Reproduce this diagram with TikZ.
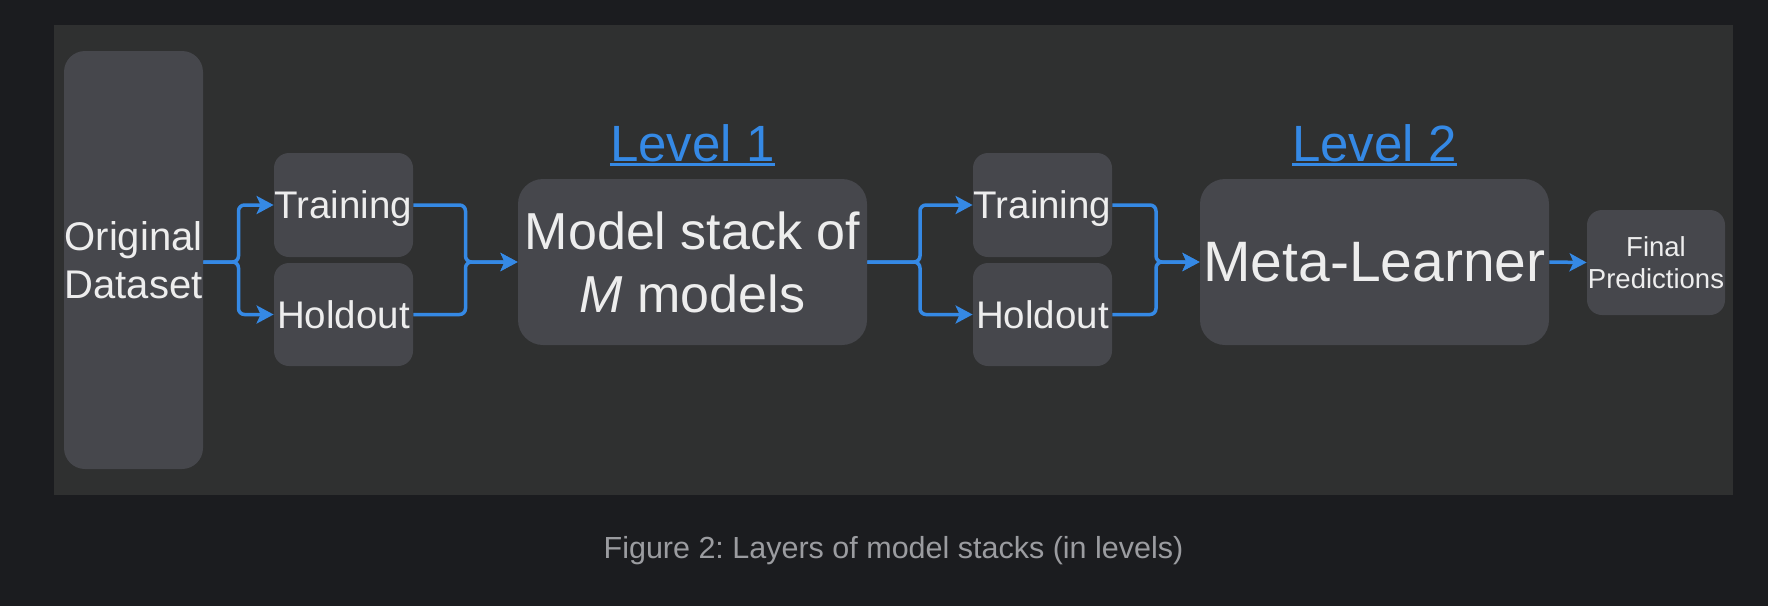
\documentclass[tikz,border=0pt]{standalone}
\usepackage{fontspec}
\setmainfont{Liberation Sans}
\usetikzlibrary{arrows.meta}
\definecolor{outerbg}{RGB}{27,28,31}
\definecolor{panelbg}{RGB}{47,48,48}
\definecolor{boxfill}{RGB}{70,71,76}
\definecolor{txt}{RGB}{237,237,237}
\definecolor{flow}{RGB}{53,137,229}
\definecolor{captxt}{RGB}{155,156,160}
\frenchspacing
\begin{document}
\begin{tikzpicture}[x=0.5pt,y=-0.5pt,
  box/.style={draw=none, fill=boxfill, rounded corners=7.5pt, text=txt, align=center, inner sep=0pt},
  smallbox/.style={box, minimum width=69.5pt, text depth=0pt, font=\fontsize{19.25}{23}\selectfont},
  bigbox/.style={box, minimum width=174.5pt, minimum height=83pt, rounded corners=12.5pt},
  conn/.style={draw=flow, line width=1.75pt, rounded corners=3pt, -{Stealth[length=8.5pt,width=9pt,inset=2pt]}},
  lvl/.style={text=flow, font=\fontsize{25.5}{30}\selectfont, inner sep=0pt, anchor=base},
  uline/.style={draw=flow, line width=1.5pt},
]
\fill[outerbg] (0,0) rectangle (1768,606);
\fill[panelbg] (54,25) rectangle (1733,495);
\useasboundingbox (0,0) rectangle (1768,606);

\node[box, minimum width=69.5pt, minimum height=209pt, rounded corners=10.5pt,
      font=\fontsize{20}{24}\selectfont] (od) at (133.5,260) {Original\\Dataset};
\node[smallbox, minimum height=52pt] (tr1) at (343.5,205) {Training};
\node[smallbox, minimum height=51.5pt] (ho1) at (343.5,314.5) {Holdout};
\node[bigbox, font=\fontsize{26}{31.5}\selectfont] (ms) at (692.5,262) {Model stack of\\{\itshape M} models};
\node[smallbox, minimum height=52pt] (tr2) at (1042.5,205) {Training};
\node[smallbox, minimum height=51.5pt] (ho2) at (1042.5,314.5) {Holdout};
\node[bigbox, font=\fontsize{28.5}{34}\selectfont] (ml) at (1374.5,262) {Meta-Learner};
\node[box, minimum width=69pt, minimum height=52.5pt, font=\fontsize{13.75}{16}\selectfont] (fp) at (1656,262.5) {Final\\Predictions};

\node[lvl] (lv1) at (692.5,161) {Level 1};
\node[lvl] (lv2) at (1374.5,161) {Level 2};
\draw[uline] ([yshift=-1.6pt]lv1.base west) -- ([yshift=-1.6pt]lv1.base east);
\draw[uline] ([yshift=-1.6pt]lv2.base west) -- ([yshift=-1.6pt]lv2.base east);

\coordinate (j1) at (238.5,262);
\coordinate (j2) at (465.5,262);
\coordinate (j3) at (920,262);
\coordinate (j4) at (1156,262);

\draw[conn] (od.east |- j1) -- (j1) |- (tr1.west);
\draw[conn] (od.east |- j1) -- (j1) |- (ho1.west);
\draw[conn] (tr1.east) -| (j2) -- (ms.west);
\draw[conn] (ho1.east) -| (j2) -- (ms.west);
\draw[conn] (ms.east) -- (j3) |- (tr2.west);
\draw[conn] (ms.east) -- (j3) |- (ho2.west);
\draw[conn] (tr2.east) -| (j4) -- (ml.west);
\draw[conn] (ho2.east) -| (j4) -- (ml.west);
\draw[conn] (ml.east) -- (fp.west);

\node[text=captxt, font=\fontsize{15.25}{18}\selectfont] (cap) at (893.5,551) {Figure 2: Layers of model stacks (in levels)};
\end{tikzpicture}
\end{document}
